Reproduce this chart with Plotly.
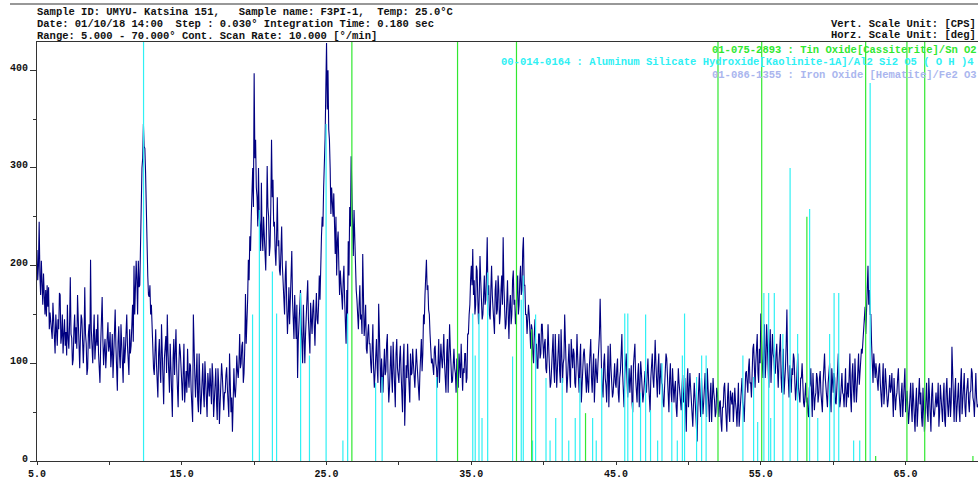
import plotly.graph_objects as go

# ---------------- data ----------------
scan_start = 5.0          # deg 2-theta of first row
sample_step = 0.05        # deg between the read-off samples in a row

# counts (CPS), one row per degree (5.00 ... 5.95, 6.00 ... )
counts_rows = [
    [216, 185, 200, 245, 190, 170, 205, 178, 160, 192, 170, 150, 175, 148, 180, 158, 178, 135, 152, 140],
    [140, 125, 162, 138, 125, 110, 150, 132, 118, 145, 135, 172, 170, 120, 128, 150, 110, 130, 145, 118],
    [132, 108, 160, 125, 115, 140, 188, 130, 126, 98, 104, 135, 150, 120, 137, 115, 170, 145, 112, 95],
    [128, 150, 145, 110, 100, 125, 178, 130, 120, 88, 95, 130, 140, 115, 206, 135, 118, 100, 130, 150],
    [104, 128, 135, 118, 150, 110, 92, 80, 120, 140, 168, 125, 98, 115, 125, 95, 110, 135, 142, 112],
    [118, 132, 96, 110, 130, 85, 105, 125, 155, 118, 90, 72, 122, 138, 108, 95, 140, 118, 99, 80],
    [127, 100, 112, 138, 150, 118, 100, 88, 135, 110, 118, 140, 160, 122, 200, 150, 172, 205, 185, 150],
    [205, 178, 180, 240, 262, 300, 310, 345, 322, 320, 295, 245, 215, 190, 170, 168, 180, 150, 160, 135],
    [120, 95, 88, 130, 135, 100, 72, 65, 110, 125, 95, 80, 140, 105, 80, 58, 105, 120, 128, 90],
    [150, 112, 95, 70, 120, 98, 62, 45, 105, 125, 88, 110, 135, 95, 70, 55, 98, 120, 112, 85],
    [80, 62, 105, 120, 60, 78, 92, 70, 115, 88, 75, 100, 98, 72, 55, 40, 150, 95, 88, 65],
    [95, 110, 62, 50, 110, 85, 48, 62, 85, 100, 70, 55, 102, 80, 58, 45, 90, 72, 66, 95],
    [75, 58, 100, 85, 45, 60, 82, 95, 60, 42, 95, 78, 38, 55, 78, 100, 88, 65, 52, 70],
    [70, 88, 96, 75, 60, 45, 110, 80, 50, 65, 30, 60, 95, 72, 65, 80, 108, 92, 85, 100],
    [130, 95, 100, 118, 122, 80, 90, 115, 171, 120, 140, 165, 206, 185, 230, 215, 250, 270, 300, 260],
    [397, 310, 329, 280, 270, 240, 300, 250, 240, 215, 285, 230, 215, 250, 230, 200, 195, 240, 302, 260],
    [250, 210, 220, 260, 329, 270, 288, 240, 245, 215, 200, 230, 270, 220, 226, 195, 190, 215, 240, 200],
    [185, 160, 150, 190, 205, 160, 130, 150, 178, 140, 160, 190, 215, 165, 140, 125, 170, 150, 125, 160],
    [85, 125, 140, 155, 175, 140, 120, 100, 160, 135, 100, 130, 150, 170, 185, 145, 130, 110, 162, 140],
    [130, 155, 165, 140, 118, 150, 172, 145, 140, 160, 190, 165, 209, 230, 250, 240, 280, 300, 330, 380],
    [428, 360, 400, 340, 329, 300, 253, 280, 270, 250, 274, 240, 212, 250, 190, 225, 235, 200, 170, 195],
    [180, 160, 155, 185, 200, 165, 140, 120, 175, 150, 225, 190, 260, 240, 312, 270, 230, 210, 257, 220],
    [200, 175, 165, 150, 135, 160, 180, 145, 150, 130, 212, 170, 128, 140, 160, 115, 110, 130, 140, 120],
    [120, 100, 90, 115, 140, 95, 75, 90, 110, 125, 95, 80, 161, 120, 88, 70, 105, 90, 70, 95],
    [115, 88, 92, 120, 130, 85, 60, 75, 100, 118, 85, 70, 122, 100, 75, 55, 110, 125, 95, 80],
    [80, 105, 118, 90, 65, 50, 105, 120, 36, 70, 98, 85, 120, 95, 72, 60, 110, 88, 90, 115],
    [100, 82, 75, 95, 115, 100, 88, 70, 62, 90, 108, 125, 92, 110, 150, 140, 170, 185, 206, 175],
    [180, 155, 150, 130, 120, 100, 105, 90, 88, 115, 118, 100, 95, 75, 110, 125, 80, 98, 120, 105],
    [95, 110, 130, 100, 85, 70, 110, 125, 70, 95, 140, 115, 100, 80, 82, 110, 115, 95, 90, 70],
    [105, 92, 75, 110, 98, 85, 120, 100, 72, 95, 90, 110, 110, 80, 85, 130, 130, 150, 160, 185],
    [200, 180, 217, 170, 185, 150, 160, 200, 195, 165, 140, 170, 210, 185, 170, 145, 150, 180, 190, 160],
    [165, 195, 229, 170, 180, 150, 145, 175, 200, 170, 160, 140, 130, 175, 185, 150, 155, 190, 175, 140],
    [150, 175, 190, 160, 229, 180, 165, 135, 140, 165, 185, 150, 125, 160, 170, 140, 150, 185, 195, 160],
    [165, 140, 145, 175, 190, 150, 160, 185, 200, 170, 175, 215, 229, 180, 180, 150, 150, 130, 140, 160],
    [150, 125, 115, 140, 135, 110, 100, 130, 145, 115, 120, 95, 95, 130, 130, 105, 110, 140, 140, 120],
    [105, 120, 125, 95, 90, 110, 140, 115, 100, 75, 80, 105, 118, 130, 95, 80, 130, 110, 75, 95],
    [110, 130, 92, 80, 135, 110, 80, 100, 105, 150, 120, 95, 70, 85, 100, 120, 88, 75, 125, 100],
    [95, 115, 110, 80, 75, 100, 130, 105, 90, 70, 105, 120, 60, 85, 98, 110, 115, 90, 85, 70],
    [100, 80, 70, 95, 110, 125, 85, 70, 95, 110, 60, 75, 105, 90, 80, 100, 115, 130, 166, 110],
    [90, 75, 65, 100, 110, 85, 78, 60, 95, 118, 55, 80, 120, 95, 82, 65, 70, 98, 100, 80],
    [75, 95, 105, 70, 60, 85, 92, 110, 130, 90, 70, 55, 88, 100, 110, 85, 65, 80, 95, 70],
    [80, 98, 60, 50, 98, 110, 120, 85, 72, 60, 88, 100, 55, 75, 102, 90, 80, 60, 68, 85],
    [92, 75, 70, 90, 105, 80, 62, 50, 85, 100, 110, 85, 75, 95, 124, 100, 80, 65, 95, 110],
    [68, 85, 100, 80, 78, 60, 55, 75, 90, 110, 105, 85, 62, 50, 85, 100, 70, 60, 95, 75],
    [60, 75, 82, 55, 45, 70, 95, 80, 70, 55, 52, 75, 88, 60, 65, 85, 40, 30, 78, 95],
    [55, 70, 90, 75, 62, 45, 35, 60, 80, 65, 50, 40, 20, 55, 72, 90, 58, 45, 85, 70],
    [48, 60, 75, 90, 60, 45, 95, 70, 52, 40, 68, 80, 40, 60, 85, 70, 62, 45, 50, 75],
    [70, 55, 45, 60, 62, 40, 30, 55, 55, 75, 80, 60, 42, 30, 65, 80, 50, 40, 72, 60],
    [58, 70, 40, 55, 75, 60, 52, 35, 66, 80, 35, 50, 60, 75, 85, 60, 55, 40, 78, 90],
    [92, 75, 70, 95, 105, 80, 80, 65, 98, 115, 120, 90, 75, 100, 110, 130, 90, 80, 115, 100],
    [151, 110, 100, 85, 125, 140, 85, 100, 140, 120, 95, 75, 118, 135, 80, 100, 130, 110, 105, 90],
    [90, 110, 120, 95, 75, 100, 110, 130, 85, 70, 100, 115, 68, 80, 95, 120, 155, 100, 80, 65],
    [98, 80, 70, 95, 88, 110, 105, 80, 62, 75, 92, 110, 75, 60, 60, 85, 85, 100, 72, 60],
    [55, 70, 80, 60, 65, 50, 45, 75, 78, 95, 60, 45, 90, 70, 52, 65, 70, 90, 85, 60],
    [68, 85, 92, 70, 60, 50, 80, 95, 110, 85, 72, 55, 55, 80, 88, 100, 65, 50, 95, 75],
    [70, 90, 85, 60, 58, 75, 100, 110, 75, 55, 62, 85, 90, 70, 68, 55, 82, 95, 55, 70],
    [80, 65, 95, 110, 65, 50, 88, 100, 72, 60, 105, 85, 60, 75, 92, 110, 78, 95, 98, 115],
    [110, 125, 127, 140, 158, 130, 165, 185, 200, 160, 175, 150, 150, 120, 96, 80, 110, 95, 85, 100],
    [90, 75, 72, 95, 100, 80, 65, 55, 82, 100, 58, 70, 95, 80, 70, 55, 62, 80, 88, 70],
    [75, 90, 60, 45, 85, 70, 52, 65, 70, 85, 95, 70, 58, 45, 68, 80, 45, 60, 80, 95],
    [50, 65, 72, 55, 38, 50, 65, 80, 55, 40, 80, 65, 42, 30, 60, 75, 35, 50, 70, 85],
    [58, 70, 45, 35, 75, 60, 30, 45, 62, 80, 50, 40, 85, 70, 40, 30, 68, 80, 55, 45],
    [48, 60, 70, 55, 60, 80, 35, 50, 78, 65, 52, 40, 65, 80, 42, 35, 72, 85, 58, 45],
    [62, 75, 45, 60, 117, 80, 55, 40, 70, 85, 40, 55, 66, 80, 52, 40, 80, 95, 48, 60],
    [75, 90, 55, 45, 68, 80, 85, 60, 50, 70, 72, 95, 90, 65, 60, 45, 78, 90, 65, 55],
    [58],
]

# Kaolinite-1A (00-014-0164) reference sticks: position (deg), height (CPS)
kaolinite_pos = [12.36, 19.89, 20.36, 21.26, 21.55, 23.21, 23.82, 24.97, 26.13, 26.46,
                 28.39, 28.84, 32.61, 35.10, 35.27, 35.53, 35.74, 36.13, 37.85, 38.45,
                 38.59, 39.23, 39.44, 40.16, 40.44, 40.83, 41.28, 41.73, 42.18, 42.50,
                 43.38, 43.63, 44.01, 45.60, 45.81, 46.14, 46.69, 47.04, 47.38, 47.87,
                 48.17, 48.85, 49.23, 49.58, 49.73, 50.56, 50.91, 51.22, 53.76, 54.50,
                 54.78, 55.21, 55.54, 55.68, 55.93, 56.52, 57.02, 57.54, 58.37, 58.93,
                 59.75, 60.06, 60.38, 61.41, 61.83, 62.55]
kaolinite_cps = [600, 150, 257, 194, 151, 172, 108, 345, 21, 151,
                 80, 86, 86, 151, 108, 151, 44, 193, 107, 165,
                 190, 21, 150, 85, 21, 44, 85, 21, 44, 85,
                 44, 21, 95, 151, 151, 60, 70, 150, 52, 21,
                 100, 60, 21, 108, 151, 86, 108, 108, 108, 86,
                 40, 172, 172, 44, 172, 130, 300, 130, 258, 44,
                 130, 172, 172, 21, 21, 387]

# Cassiterite (01-075-2893) reference sticks
cassiterite_pos = [26.75, 34.05, 38.12, 39.17, 42.89, 52.04, 55.06, 58.18, 62.24, 62.93,
                   65.09, 66.32, 69.65]
cassiterite_cps = [600, 600, 600, 135, 49, 600, 600, 250, 600, 5,
                   600, 600, 5]

header_left = [
    "Sample ID: UMYU- Katsina 151,   Sample name: F3PI-1,  Temp: 25.0°C",
    "Date: 01/10/18 14:00  Step : 0.030° Integration Time: 0.180 sec",
    "Range: 5.000 - 70.000° Cont. Scan Rate: 10.000 [°/min]",
]
header_right = ["Vert. Scale Unit: [CPS]", "Horz. Scale Unit: [deg]"]
phase_labels = [
    "01-075-2893 : Tin Oxide[Cassiterite]/Sn O2",
    "00-014-0164 : Aluminum Silicate Hydroxide[Kaolinite-1A]/Al2 Si2 O5 ( O H )4",
    "01-086-1355 : Iron Oxide [Hematite]/Fe2 O3",
]

x_ticks = [5, 15, 25, 35, 45, 55, 65]
y_ticks = [0, 100, 200, 300, 400]

# ---------------- styling ----------------
NAVY = "#000080"
CYAN = "#2ff0f4"
GREEN = "#30e830"
HEMA = "#aab6ee"
MONO = "Liberation Mono, DejaVu Sans Mono, monospace"

W, H = 978, 480
ML, MR, MT, MB = 37, 0, 42, 19
plot_h = H - MT - MB

two_theta, counts = [], []
for r, row in enumerate(counts_rows):
    for j, c in enumerate(row):
        two_theta.append(round(scan_start + r + sample_step * j, 3))
        counts.append(c)


def sticks(pos, hts):
    xs, ys = [], []
    for p, h in zip(pos, hts):
        xs += [p, p, None]
        ys += [0, h, None]
    return xs, ys


fig = go.Figure()
fig.add_trace(go.Scatter(x=two_theta, y=counts, mode="lines",
                         line=dict(color=NAVY, width=1.1), hoverinfo="skip"))
kx, ky = sticks(kaolinite_pos, kaolinite_cps)
fig.add_trace(go.Scatter(x=kx, y=ky, mode="lines", line=dict(color=CYAN, width=1.2),
                         connectgaps=False, hoverinfo="skip"))
cx, cy = sticks(cassiterite_pos, cassiterite_cps)
fig.add_trace(go.Scatter(x=cx, y=cy, mode="lines", line=dict(color=GREEN, width=1.2),
                         connectgaps=False, hoverinfo="skip"))


def ypaper(px):
    return (H - MB - px) / plot_h


ann = []
for i, t in enumerate(header_left):
    ann.append(dict(text=f"<b>{t}</b>", x=0, xref="paper", y=ypaper(12 + 11.8 * i), yref="paper",
                    xanchor="left", yanchor="middle", showarrow=False,
                    font=dict(family=MONO, size=10.5, color="#111"), xshift=-2))
for i, t in enumerate(header_right):
    ann.append(dict(text=f"<b>{t}</b>", x=1, xref="paper", y=ypaper(23.7 + 11.5 * i), yref="paper",
                    xanchor="right", yanchor="middle", showarrow=False,
                    font=dict(family=MONO, size=10.5, color="#111"), xshift=0))
for t, xp, ypx, col in zip(phase_labels, [711.7, 501, 711.7], [50.3, 62.2, 74.5],
                           [GREEN, CYAN, HEMA]):
    ann.append(dict(text=f"<b>{t}</b>", x=(xp - ML) / (W - ML - MR), xref="paper", y=ypaper(ypx),
                    yref="paper", xanchor="left", yanchor="middle", showarrow=False,
                    font=dict(family=MONO, size=10.5, color=col), xshift=-2))

fig.update_layout(
    width=W, height=H, margin=dict(l=ML, r=MR, t=MT, b=MB, pad=0, autoexpand=False),
    paper_bgcolor="white", plot_bgcolor="white", showlegend=False,
    annotations=ann,
    shapes=[dict(type="line", xref="paper", yref="paper", x0=(10 - ML) / (W - ML - MR), x1=1,
                 y0=ypaper(4), y1=ypaper(4), line=dict(color="#333", width=1.2))],
    font=dict(family=MONO, size=10, color="#111"),
)
fig.update_xaxes(range=[5, 70], showgrid=False, zeroline=False, automargin=False,
                 showline=True, linecolor="#333", linewidth=1.2, mirror=True,
                 ticks="outside", ticklen=3, tickcolor="#333",
                 tickvals=x_ticks, ticktext=[f"<b>{v:.1f}</b>" for v in x_ticks],
                 tickfont=dict(family=MONO, size=10, color="#111"),
                 minor=dict(ticks="outside", ticklen=3, dtick=5, tick0=5, tickcolor="#333"))
fig.update_yaxes(range=[0, 429], showgrid=False, zeroline=False, automargin=False,
                 showline=True, linecolor="#333", linewidth=1.2,
                 ticks="outside", ticklen=6, tickcolor="#333",
                 tickvals=y_ticks, ticktext=[f"<b>{v}</b>" for v in y_ticks],
                 tickfont=dict(family=MONO, size=10, color="#111"),
                 ticklabelshift=-3,
                 minor=dict(ticks="outside", ticklen=3, dtick=50, tick0=0, tickcolor="#333"))

fig.write_html("out.html", config={"displayModeBar": False},
               post_script="document.body.style.margin='0px';document.body.style.overflow='hidden';")
